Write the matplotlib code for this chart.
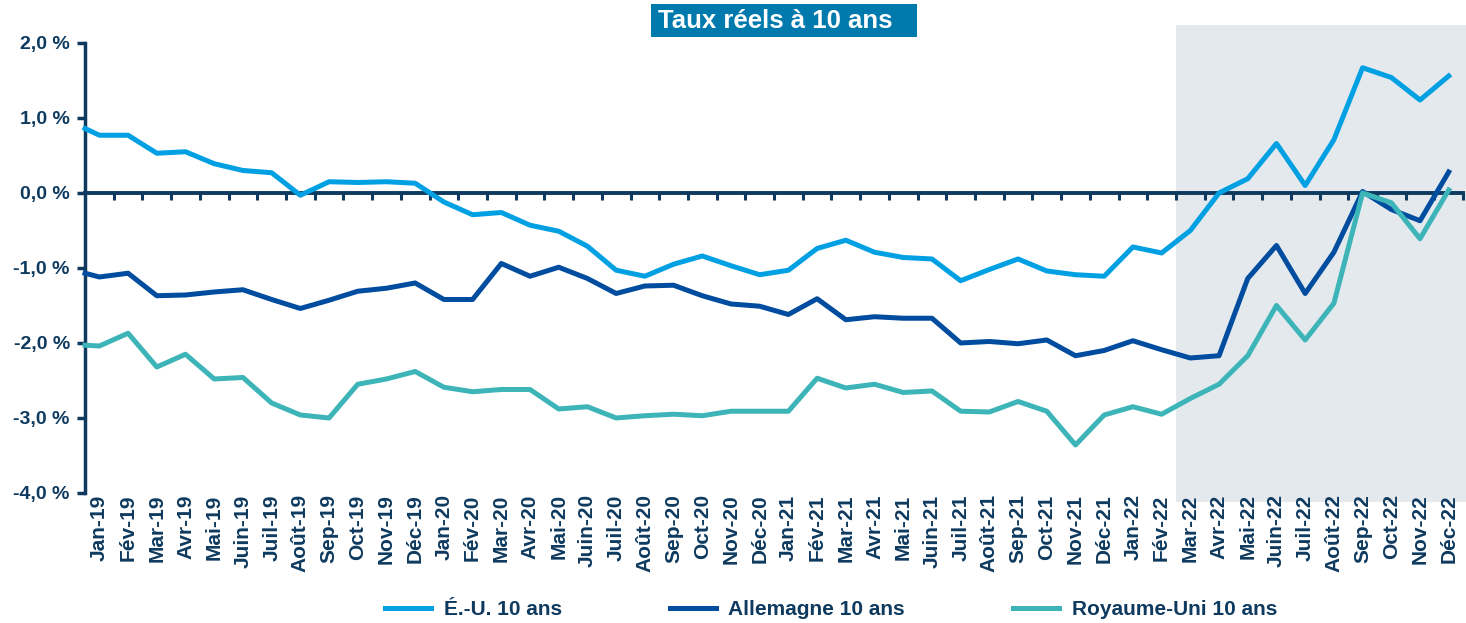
import numpy as np
import matplotlib
matplotlib.use("Agg")
import matplotlib.pyplot as plt
from matplotlib.patches import Rectangle

plt.rcParams['font.family'] = ['Liberation Sans', 'DejaVu Sans']

# Month labels (Jan-19 .. Déc-22)
mois = ["Jan", "Fév", "Mar", "Avr", "Mai", "Juin", "Juil", "Août", "Sep", "Oct", "Nov", "Déc"]
labels = ["{}-{}".format(m, y) for y in ("19", "20", "21", "22") for m in mois]

# Real 10y rates, %, first value = start of period then one per month
us = [0.86, 0.77, 0.77, 0.53, 0.55, 0.39, 0.30, 0.27, -0.03, 0.15, 0.14, 0.15, 0.13,
      -0.12, -0.29, -0.26, -0.43, -0.51, -0.71, -1.03, -1.11, -0.95, -0.84, -0.97, -1.09,
      -1.03, -0.74, -0.63, -0.79, -0.86, -0.88, -1.17, -1.02, -0.88, -1.04, -1.09, -1.11,
      -0.72, -0.80, -0.50, 0.00, 0.19, 0.66, 0.10, 0.71, 1.67, 1.54, 1.24, 1.56]
de = [-1.07, -1.12, -1.07, -1.37, -1.36, -1.32, -1.29, -1.42, -1.54, -1.43, -1.31, -1.27, -1.20,
      -1.42, -1.42, -0.94, -1.11, -0.99, -1.14, -1.34, -1.24, -1.23, -1.37, -1.48, -1.51,
      -1.62, -1.41, -1.69, -1.65, -1.67, -1.67, -2.00, -1.98, -2.01, -1.96, -2.17, -2.10,
      -1.97, -2.09, -2.20, -2.17, -1.14, -0.70, -1.34, -0.79, 0.02, -0.22, -0.37, 0.28]
uk = [-2.03, -2.04, -1.87, -2.32, -2.15, -2.48, -2.46, -2.80, -2.96, -3.00, -2.55, -2.48, -2.38,
      -2.59, -2.65, -2.62, -2.62, -2.88, -2.85, -3.00, -2.97, -2.95, -2.97, -2.91, -2.91,
      -2.91, -2.47, -2.60, -2.55, -2.66, -2.64, -2.91, -2.92, -2.78, -2.91, -3.36, -2.96,
      -2.85, -2.95, -2.74, -2.55, -2.17, -1.50, -1.96, -1.47, 0.00, -0.13, -0.61, 0.04]

navy = '#0E3A5F'
n = len(labels)
x = np.concatenate([[0], np.arange(n) + 0.5])

fig = plt.figure(figsize=(14.66, 6.23), dpi=100)
ax = fig.add_axes([0.058, 0.2087, 0.940, 0.7524])
ax.set_xlim(0, n)
ax.set_ylim(-4, 2.25)

# shaded period (Mar-22 onwards)
ax.add_patch(Rectangle((38, -4.12), 10.2, 6.36, facecolor='#E4E9EE', edgecolor='none',
                       clip_on=False, zorder=0))

ax.plot(x, us, color='#00A0E3', lw=3.6, label='É.-U. 10 ans', zorder=3, clip_on=False)
ax.plot(x, de, color='#004C9E', lw=3.6, label='Allemagne 10 ans', zorder=3, clip_on=False)
ax.plot(x, uk, color='#3DB5B8', lw=3.6, label='Royaume-Uni 10 ans', zorder=3, clip_on=False)

for s in ('top', 'right', 'bottom'):
    ax.spines[s].set_visible(False)
ax.spines['left'].set_bounds(-4, 2)
ax.spines['left'].set_color(navy)
ax.spines['left'].set_linewidth(2.5)

yt = np.arange(-4, 3)
ax.set_yticks(yt)
ax.set_yticklabels(["{:.1f} %".format(v).replace('.', ',') for v in yt],
                   fontsize=14, fontweight='bold', color=navy)
ax.tick_params(axis='y', length=6, width=2.5, color=navy, pad=5)

ax.set_xticks(np.arange(n) + 0.5)
ax.set_xticklabels(labels, rotation=90, fontsize=15, fontweight='bold', color=navy)
ax.tick_params(axis='x', length=0, pad=1)

# zero line with month separators
sec = ax.secondary_xaxis(0, transform=ax.transData)
sec.set_xticks(np.arange(1, n + 1))
sec.tick_params(axis='x', length=5, width=2.2, color=navy, labelbottom=False, labeltop=False)
sec.spines['bottom'].set_color(navy)
sec.spines['bottom'].set_linewidth(2.8)

# title box
fig.add_artist(Rectangle((0.4441, 0.9406), 0.1814, 0.053, transform=fig.transFigure,
                         facecolor='#0079AD', edgecolor='none'))
fig.text(0.4488, 0.967, 'Taux réels à 10 ans', fontsize=18.5, fontweight='bold',
         color='white', va='center', ha='left')

fig.legend(loc='center', bbox_to_anchor=(0.567, 0.021), ncol=3, frameon=False,
           prop={'size': 15, 'weight': 'bold'}, labelcolor=navy,
           handlelength=2.2, handletextpad=0.6, columnspacing=5.2)

fig.savefig('out.png', dpi=100)
